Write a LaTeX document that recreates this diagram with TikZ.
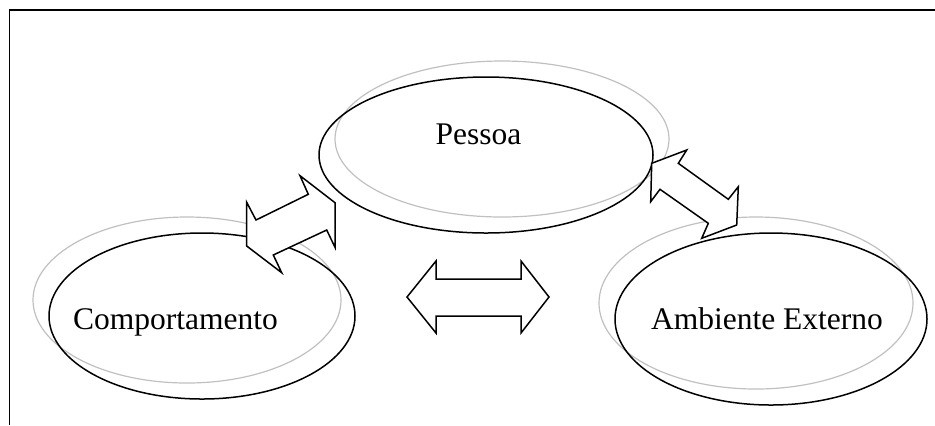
\documentclass[tikz,border=0pt]{standalone}
\usepackage{fontspec}
\setmainfont{Liberation Serif}
\usepackage{tikz}
\usetikzlibrary{shapes.geometric, positioning, calc}
\definecolor{shade}{RGB}{192,192,192}
\tikzset{
  ring/.style={ellipse, draw, line width=0.75pt, inner sep=0pt},
  ghost/.style={ring, draw=shade, line width=0.6pt},
  caption/.style={anchor=base, inner sep=0pt, font=\fontsize{15.75}{18}\selectfont},
  link/.style={draw, fill=white, line width=0.75pt},
}

\begin{document}
\begin{tikzpicture}[x=0.5pt, y=-0.5pt]
  \useasboundingbox (0,0) rectangle (935,425);
  \draw[line width=0.9pt] (9.5,425) -- (9.5,10) -- (935,10);

  % grey copies, offset behind
  \node[ghost, minimum width=167pt, minimum height=78pt] (PESSOAg) at (502,139) {};
  \node[ghost, minimum width=154pt, minimum height=83pt] (COMPg) at (187,300) {};
  \node[ghost, minimum width=157pt, minimum height=86pt] (AMBg) at (756,303) {};

  \node[ring, minimum width=167pt, minimum height=78pt] (PESSOA) at (486,155) {};
  \node[ring, minimum width=153pt, minimum height=83pt] (COMP) at (202,316) {};
  \node[ring, minimum width=156pt, minimum height=86pt] (AMB) at (771,319) {};

  \node[caption] (tPESSOA) at (478.5,144) {Pessoa};
  \node[caption] (tCOMP) at (175.5,329) {Comportamento};
  \node[caption] (tAMB) at (767,329) {Ambiente Externo};

  % block arrows
  \draw[link] (246.7,202.3) -- (256,220) -- (308.3,194.3) -- (300,175.7)
    -- (335,202.7) -- (335,247.3) -- (326.7,230) -- (273.3,255)
    -- (281.7,272.7) -- (246.7,246) -- cycle;
  \draw[link] (651.7,163.3) -- (686.7,150) -- (678.3,163.3) -- (728.3,199.3)
    -- (738.3,186.7) -- (736.7,225) -- (701.7,238.3) -- (708.3,223.3)
    -- (660,189.3) -- (650.7,201.7) -- cycle;
  \draw[link] (407,297) -- (436,261) -- (436,279) -- (521,279) -- (521,261)
    -- (549,297) -- (521,333) -- (521,316) -- (436,316) -- (436,333) -- cycle;
\end{tikzpicture}
\end{document}
